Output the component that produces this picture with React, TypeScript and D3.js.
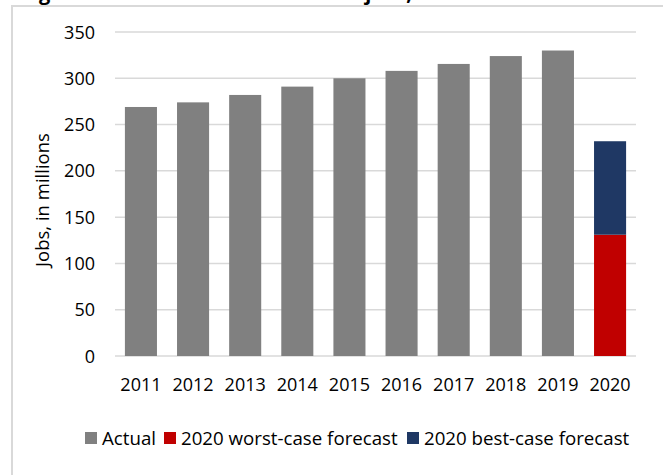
import React, { useRef, useEffect } from 'react';
import * as d3 from 'd3';

// Chart data (jobs, in millions)
const years = ['2011', '2012', '2013', '2014', '2015', '2016', '2017', '2018', '2019', '2020'];
const actual = [269, 274, 282, 291, 300, 308, 315.5, 324, 330, null];
const worstCase2020 = 131;
const bestCase2020 = 232;
const yTicks = [0, 50, 100, 150, 200, 250, 300, 350];

const legendItems = [
  { label: 'Actual', color: '#808080', x: 85 },
  { label: '2020 worst-case forecast', color: '#C00000', x: 164 },
  { label: '2020 best-case forecast', color: '#1F3864', x: 407 },
];

const FONT = '"Open Sans", "Liberation Sans", sans-serif';

const App: React.FC = () => {
  const svgRef = useRef<SVGSVGElement>(null);

  useEffect(() => {
    if (!svgRef.current) return;
    const svg = d3.select(svgRef.current);
    svg.selectAll('*').remove();

    const left = 115, right = 636, top = 32, bottom = 356;

    // Chart frame (runs off the right and bottom edges)
    svg.append('rect')
      .attr('x', 12)
      .attr('y', 6)
      .attr('width', 700)
      .attr('height', 520)
      .attr('fill', '#fff')
      .attr('stroke', '#d9d9d9')
      .attr('stroke-width', 2);

    // Title, mostly clipped off the top edge like in the source
    svg.append('text')
      .attr('x', 22)
      .attr('y', 0)
      .attr('font-family', FONT)
      .attr('font-size', '20px')
      .attr('font-weight', 'bold')
      .attr('fill', '#000')
      .text('Figure 1: Travel & Tourism-related jobs, 2011-2020');

    const x = d3.scaleBand<string>()
      .domain(years)
      .range([left, right])
      .paddingInner(0.385)
      .paddingOuter(0.19);

    const y = d3.scaleLinear()
      .domain([0, 350])
      .range([bottom, top]);

    const g = svg.append('g');

    // Gridlines
    g.selectAll('.grid')
      .data(yTicks)
      .enter()
      .append('line')
      .attr('x1', left)
      .attr('x2', right)
      .attr('y1', d => y(d))
      .attr('y2', d => y(d))
      .attr('stroke', '#d9d9d9')
      .attr('stroke-width', 1.5);

    // Y tick labels
    g.selectAll('.ytick')
      .data(yTicks)
      .enter()
      .append('text')
      .attr('x', 95)
      .attr('y', d => y(d) + 6.5)
      .attr('text-anchor', 'end')
      .attr('font-family', FONT)
      .attr('font-size', '18px')
      .attr('fill', '#000')
      .text(d => d);

    // Actual bars
    const actualData = years
      .map((yr, i) => ({ year: yr, value: actual[i] }))
      .filter(d => d.value !== null) as { year: string; value: number }[];

    g.selectAll('.bar')
      .data(actualData)
      .enter()
      .append('rect')
      .attr('x', d => x(d.year)!)
      .attr('width', x.bandwidth())
      .attr('y', d => y(d.value))
      .attr('height', d => y(0) - y(d.value))
      .attr('fill', '#808080');

    // 2020 forecast: worst case at the bottom, best case stacked up to its total
    g.append('rect')
      .attr('x', x('2020')!)
      .attr('width', x.bandwidth())
      .attr('y', y(worstCase2020))
      .attr('height', y(0) - y(worstCase2020))
      .attr('fill', '#C00000');

    g.append('rect')
      .attr('x', x('2020')!)
      .attr('width', x.bandwidth())
      .attr('y', y(bestCase2020))
      .attr('height', y(worstCase2020) - y(bestCase2020))
      .attr('fill', '#1F3864');

    // X labels
    g.selectAll('.xlabel')
      .data(years)
      .enter()
      .append('text')
      .attr('x', d => x(d)! + x.bandwidth() / 2)
      .attr('y', 391)
      .attr('text-anchor', 'middle')
      .attr('font-family', FONT)
      .attr('font-size', '18px')
      .attr('fill', '#000')
      .text(d => d);

    // Y axis title
    svg.append('text')
      .attr('transform', 'translate(41,200) rotate(-90)')
      .attr('text-anchor', 'middle')
      .attr('dominant-baseline', 'central')
      .attr('font-family', FONT)
      .attr('font-size', '18.5px')
      .attr('fill', '#000')
      .text('Jobs, in millions');

    // Legend
    const legend = svg.append('g');
    const items = legend.selectAll('.legend-item')
      .data(legendItems)
      .enter()
      .append('g')
      .attr('transform', d => `translate(${d.x}, 432)`);

    items.append('rect')
      .attr('width', 12)
      .attr('height', 12)
      .attr('fill', d => d.color);

    items.append('text')
      .attr('x', 17)
      .attr('y', 12.5)
      .attr('font-family', FONT)
      .attr('font-size', '18.7px')
      .attr('fill', '#000')
      .text(d => d.label);
  }, []);

  return (
    <svg
      ref={svgRef}
      width={663}
      height={475}
      style={{ position: 'absolute', left: 0, top: 0, background: '#fff' }}
    />
  );
};

export default App;
